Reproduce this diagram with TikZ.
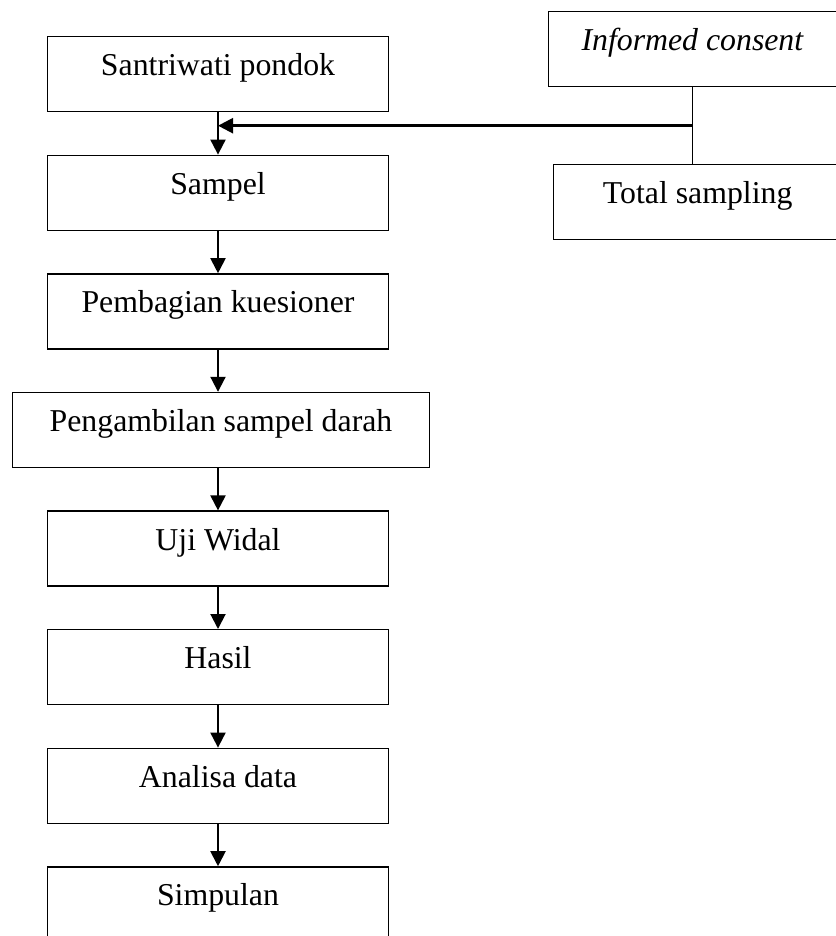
\documentclass[tikz,border=0pt]{standalone}
\usepackage{fontspec}
\setmainfont{Liberation Serif}
\usetikzlibrary{positioning, arrows.meta}

\begin{document}
\begin{tikzpicture}[
font=\fontsize{15.9}{19}\selectfont,
block/.style={rectangle, draw, line width=0.7pt, inner sep=0pt, text centered,
text height=19.5pt, text depth=18pt, minimum width=170.5pt, node distance=21.1pt},
block-wide/.style={block, minimum width=208.5pt},
block-side/.style={block, minimum width=144pt},
line/.style={draw, line width=1pt, -{Triangle[length=7.5pt, width=7.5pt]}},
link/.style={draw, line width=0.4pt}
]
\useasboundingbox (0,0) rectangle (417.5pt,-468pt);
\node [block, anchor=north] (santri) at (109pt,-18pt) {Santriwati pondok};
\node [block, below=of santri] (sampel) {Sampel};
\node [block, below=of sampel] (kuesioner) {Pembagian kuesioner};
\node [block-wide, below=of kuesioner, xshift=1.5pt] (darah) {Pengambilan sampel darah};
\node [block, below=of darah, xshift=-1.5pt] (widal) {Uji Widal};
\node [block, below=of widal] (hasil) {Hasil};
\node [block, below=of hasil] (analisa) {Analisa data};
\node [block, below=of analisa] (simpulan) {Simpulan};
\node [block-side, anchor=north west] (consent) at (274pt,-5.5pt) {\textit{Informed consent}};
\node [block-side, anchor=north west] (total) at (276.5pt,-82pt) {Total sampling};

\path [link] (consent.south) -- coordinate (join) (consent.south |- total.north);
\path [line] (santri) -- (sampel);
\path [line, line width=1.2pt] (join) -- (join -| santri.south);
\path [line] (sampel) -- (kuesioner);
\path [line] (kuesioner) -- (darah.north -| kuesioner.south);
\path [line] (darah.south -| widal.north) -- (widal);
\path [line] (widal) -- (hasil);
\path [line] (hasil) -- (analisa);
\path [line] (analisa) -- (simpulan);
\end{tikzpicture}
\end{document}
